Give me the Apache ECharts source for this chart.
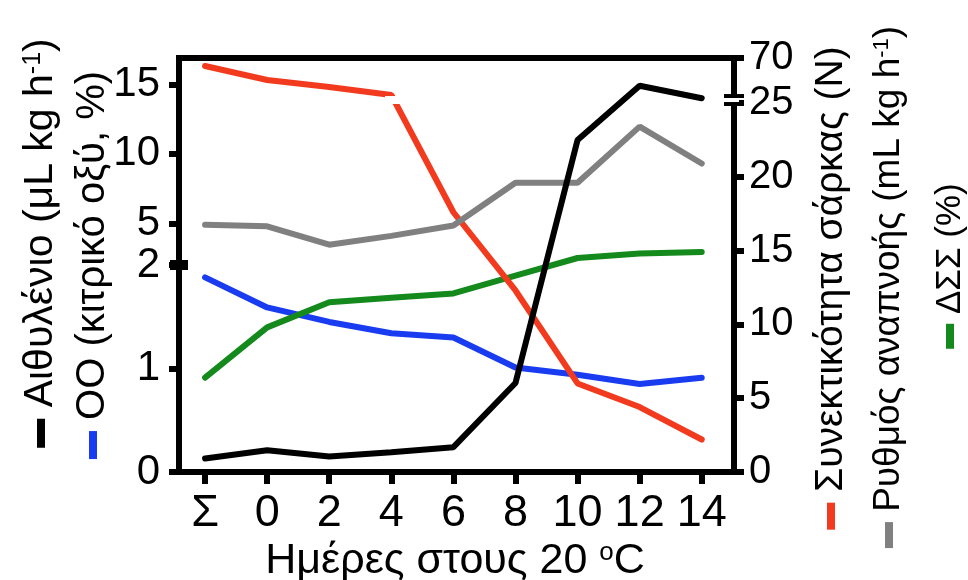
<!DOCTYPE html>
<html><head><meta charset="utf-8">
<script src="https://cdn.jsdelivr.net/npm/echarts@6/dist/echarts.min.js"></script>
<style>html,body{margin:0;padding:0;background:#fff}#c{width:968px;height:580px}</style>
</head><body><div id="c"></div>
<script>
// ---- data ----
const categories = ['Σ', '0', '2', '4', '6', '8', '10', '12', '14'];
const ethylene    = [0.13, 0.21, 0.15, 0.19, 0.24, 0.86, 11.0, 14.9, 14.0];   // μL kg h-1 (left)
const citricAcid  = [1.88, 1.59, 1.45, 1.34, 1.30, 1.01, 0.94, 0.85, 0.91];   // % (left)
const firmness    = [62, 48, 41, 33, 17.6, 12.3, 6.0, 4.4, 2.2];              // N (right)
const respiration = [16.75, 16.65, 15.4, 16.0, 16.7, 19.6, 19.6, 23.4, 20.9]; // mL kg h-1 (right)
const tss         = [6.4, 9.8, 11.5, 11.8, 12.1, 13.3, 14.5, 14.8, 14.9];     // % (right)
const leftTicks  = [0, 1, 2, 5, 10, 15];
const rightTicks = [0, 5, 10, 15, 20, 25, 70];

// broken-axis scale transforms (lower part linear, upper part compressed)
const LB = 2, LK = 0.1343;
const RB = 25, RK = 0.0678;
const fL = v => v <= LB ? v : LB + (v - LB) * LK;
const iL = t => t <= LB + 1e-9 ? t : LB + (t - LB) / LK;
const fR = v => v <= RB ? v : RB + (v - RB) * RK;
const iR = t => t <= RB + 1e-9 ? t : RB + (t - RB) / RK;

const FONT = "'Liberation Sans', Arial, Helvetica, sans-serif";
const chart = echarts.init(document.getElementById('c'), null, {renderer: 'canvas'});

const mk = (arr, f) => arr.map((v, i) => [i, f(v)]);
const line = (name, data, color, yIdx, z) => ({
  name, type: 'line', data, yAxisIndex: yIdx, symbol: 'none', z,
  lineStyle: {color, width: 6, cap: 'round'}, itemStyle: {color}
});

const axisCommon = {
  axisLine: {show: true, onZero: false, lineStyle: {color: '#000', width: 6}},
  splitLine: {show: false}
};

chart.setOption({
  animation: false,
  backgroundColor: '#fff',
  grid: {left: 179, right: 234, top: 58, bottom: 108, show: true, borderColor: '#000', borderWidth: 6},
  xAxis: Object.assign({
    type: 'value', min: -0.42, max: 8.52,
    axisTick: {show: true, customValues: categories.map((c, i) => i), length: 12, lineStyle: {color: '#000', width: 6}},
    axisLabel: {customValues: categories.map((c, i) => i), formatter: v => categories[Math.round(v)],
      fontSize: 45, color: '#000', fontFamily: FONT, margin: 19}
  }, axisCommon),
  yAxis: [
    Object.assign({
      type: 'value', min: 0, max: 4.0, position: 'left',
      axisTick: {show: true, customValues: leftTicks.map(fL), length: 10, lineStyle: {color: '#000', width: 6}},
      axisLabel: {customValues: leftTicks.map(fL), formatter: v => String(Math.round(iL(v))),
        fontSize: 42, color: '#000', fontFamily: FONT, margin: 19}
    }, axisCommon),
    Object.assign({
      type: 'value', min: 0, max: fR(70), position: 'right',
      axisTick: {show: true, customValues: rightTicks.map(fR), length: 10, lineStyle: {color: '#000', width: 6}},
      axisLabel: {customValues: rightTicks.map(fR), formatter: v => String(Math.round(iR(v))),
        fontSize: 40, color: '#000', fontFamily: FONT, margin: 15}
    }, axisCommon)
  ],
  series: [
    line('ΟΟ', mk(citricAcid, fL), '#1a3cf0', 0, 2),
    line('ΔΣΣ', mk(tss, fR), '#148a1c', 1, 3),
    line('Συνεκτικότητα σάρκας', mk(firmness, fR), '#f23a1e', 1, 4),
    line('Ρυθμός αναπνοής', mk(respiration, fR), '#808080', 1, 5),
    line('Αιθυλένιο', mk(ethylene, fL), '#000000', 0, 6)
  ]
});

// ---- axis break marks and titles ----
const pL = chart.convertToPixel({seriesIndex: 4}, [-0.42, fL(LB)]);
const pR = chart.convertToPixel({seriesIndex: 2}, [8.52, fR(RB)]);
// where the firmness line crosses the right-axis break level (gap in the line)
const gy = pR[1] - 3;
const fi = firmness.findIndex((v, i) => i < firmness.length - 1 && v > RB && firmness[i + 1] <= RB);
const a = chart.convertToPixel({seriesIndex: 2}, [fi, fR(firmness[fi])]);
const b = chart.convertToPixel({seriesIndex: 2}, [fi + 1, fR(firmness[fi + 1])]);
const gx = a[0] + (gy - a[1]) / (b[1] - a[1]) * (b[0] - a[0]);

const title = (x, y, text, color, fs) => ({
  type: 'text', x, y, rotation: Math.PI / 2, z: 100,
  style: {text, fill: '#000', fontSize: fs, fontFamily: FONT, align: 'center', verticalAlign: 'middle',
    rich: {
      bar: {width: Math.round(fs * 0.7), height: 8, backgroundColor: color, verticalAlign: 'middle'},
      sup: {fontSize: Math.round(fs * 0.6), fontFamily: FONT, fill: '#000', verticalAlign: 'top', lineHeight: fs}
    }}
});
chart.setOption({
  graphic: [
    {type: 'rect', shape: {x: gx - 9, y: gy - 4, width: 18, height: 8}, style: {fill: '#fff'}, z: 90},
    {type: 'rect', shape: {x: pL[0] - 9, y: pL[1] - 5, width: 18, height: 10}, style: {fill: '#000'}, z: 100},
    {type: 'rect', shape: {x: pR[0] - 5, y: pR[1] - 6, width: 10, height: 6}, style: {fill: '#fff'}, z: 100},
    {type: 'rect', shape: {x: pR[0] - 10, y: pR[1] - 9, width: 20, height: 4}, style: {fill: '#000'}, z: 101},
    {type: 'rect', shape: {x: pR[0] - 10, y: pR[1] - 1, width: 20, height: 4}, style: {fill: '#000'}, z: 101},
    title(41, 243, '{bar| } Αιθυλένιο (μL kg h{sup|-1})', '#000', 41),
    title(93, 265, '{bar| } ΟΟ (κιτρικό οξύ, %)', '#1a3cf0', 40),
    title(831, 288, '{bar| } Συνεκτικότητα σάρκας (N)', '#f23a1e', 39),
    title(889, 287, '{bar| } Ρυθμός αναπνοής (mL kg h{sup|-1})', '#808080', 37),
    title(950, 266, '{bar| } ΔΣΣ (%)', '#148a1c', 35),
    {type: 'text', x: 455, y: 561, z: 100,
      style: {text: 'Ημέρες στους 20 {sup|o}C', fill: '#000', fontSize: 43, fontFamily: FONT,
        align: 'center', verticalAlign: 'middle',
        rich: {sup: {fontSize: 26, fontFamily: FONT, fill: '#000', verticalAlign: 'top', lineHeight: 43}}}}
  ]
});
</script></body></html>
